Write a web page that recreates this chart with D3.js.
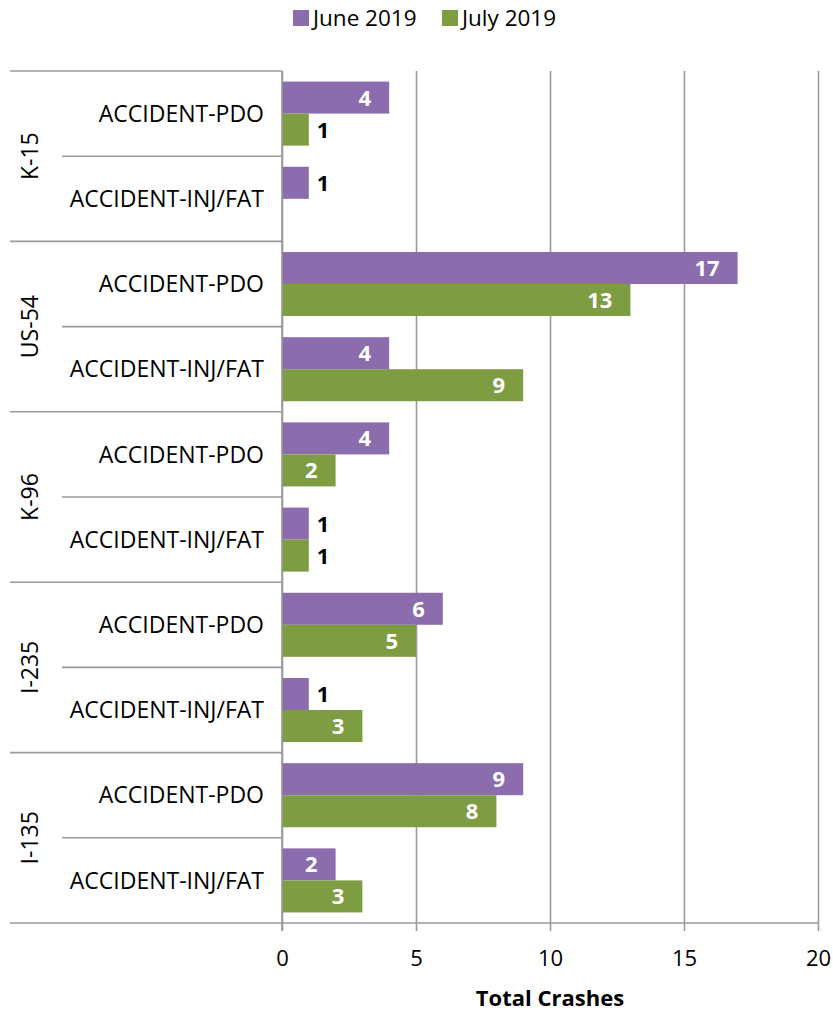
<!DOCTYPE html>
<html><head><meta charset="utf-8">
<script src="https://cdn.jsdelivr.net/npm/d3@7"></script>
<style>
body{margin:0;background:#fff;}
svg text{font-family:"Open Sans","Noto Sans",sans-serif;}
</style></head>
<body><svg id="c" width="833" height="1011"></svg>
<script>
const groups = ["K-15","US-54","K-96","I-235","I-135"];
const subs = ["ACCIDENT-PDO","ACCIDENT-INJ/FAT"];
const series = ["June 2019","July 2019"];
const june = [4,1, 17,4, 4,1, 6,1, 9,2];
const july = [1,0, 13,9, 2,1, 5,3, 8,3];
const xTicks = [0,5,10,15,20];
const colors = ["#8b6dad","#7e9c42"];

const svg = d3.select("#c");
const L=282, R=818, T=71, B=923;
const rows = [];
groups.forEach((g,gi)=>subs.forEach((s,si)=>rows.push({g,s,key:g+"|"+s,vals:[june[gi*2+si],july[gi*2+si]]})));

const x = d3.scaleLinear().domain([0,20]).range([L,R]);
const y0 = d3.scaleBand().domain(rows.map(r=>r.key)).range([T,B]).paddingInner(0).paddingOuter(0);
const y1 = d3.scaleBand().domain(series).range([0,y0.bandwidth()]).paddingInner(0).paddingOuter(0.33);
const gridCol="#9a9a9a";

// gridlines
svg.append("g").attr("transform",`translate(0,${B})`)
  .call(d3.axisBottom(x).tickValues(xTicks).tickSize(-(B-T)).tickFormat(""))
  .call(g=>{g.select(".domain").remove();g.selectAll("line").attr("stroke",gridCol).attr("stroke-width",1.6);});

// bars
const rg = svg.append("g").selectAll("g").data(rows).join("g").attr("transform",d=>`translate(0,${y0(d.key)})`);
rg.selectAll("rect").data(d=>d.vals.map((v,i)=>({v,i,s:series[i]})).filter(e=>e.v>0)).join("rect")
  .attr("x",x(0)).attr("y",e=>y1(e.s)).attr("width",e=>x(e.v)-x(0)).attr("height",y1.bandwidth())
  .attr("fill",e=>colors[e.i]);
rg.selectAll("text").data(d=>d.vals.map((v,i)=>({v,i,s:series[i]})).filter(e=>e.v>0)).join("text")
  .attr("x",e=>e.v>=2? x(e.v)-18 : x(e.v)+8)
  .attr("y",e=>y1(e.s)+y1.bandwidth()/2).attr("dy","0.36em")
  .attr("text-anchor",e=>e.v>=2?"end":"start")
  .attr("fill",e=>e.v>=2?"#fff":"#000").attr("font-weight","bold").attr("font-size",22)
  .text(e=>e.v);

// bottom axis
svg.append("g").attr("transform",`translate(0,${B})`)
  .call(d3.axisBottom(x).tickValues(xTicks).tickSize(8).tickPadding(19).tickFormat(d3.format("d")))
  .call(g=>{g.select(".domain").remove();g.selectAll("line").attr("stroke",gridCol).attr("stroke-width",1.6);
    g.selectAll("text").attr("font-size",22).attr("fill","#000").attr("font-family","Open Sans");});
// bottom axis line extending left
svg.append("line").attr("x1",10).attr("x2",R).attr("y1",B).attr("y2",B).attr("stroke",gridCol).attr("stroke-width",1.6);
// vertical axis line
svg.append("line").attr("x1",L).attr("x2",L).attr("y1",T).attr("y2",B+8).attr("stroke",gridCol).attr("stroke-width",1.6);

// category lines
const lines = svg.append("g");
rows.forEach((r,i)=>{
  const yy = y0(r.key);
  const isGroup = i%2===0;
  lines.append("line").attr("x1",isGroup?10:62).attr("x2",L).attr("y1",yy).attr("y2",yy)
    .attr("stroke",gridCol).attr("stroke-width",1.6);
});
// sub labels
svg.append("g").selectAll("text").data(rows).join("text")
  .attr("x",264).attr("y",d=>y0(d.key)+y0.bandwidth()/2).attr("dy","0.36em")
  .attr("text-anchor","end").attr("font-size",23).attr("fill","#000").text(d=>d.s);
// group labels
svg.append("g").selectAll("text").data(groups).join("text")
  .attr("transform",g=>`translate(30,${y0(g+"|"+subs[0])+y0.bandwidth()}) rotate(-90)`)
  .attr("dy","0.36em").attr("text-anchor","middle").attr("font-size",23).attr("fill","#000").text(g=>g);

// axis title
svg.append("text").attr("x",(L+R)/2).attr("y",1006).attr("text-anchor","middle")
  .attr("font-weight","bold").attr("font-size",22).text("Total Crashes");

// legend
const leg = svg.append("g");
const legX=[293,442];
series.forEach((s,i)=>{
  leg.append("rect").attr("x",legX[i]).attr("y",10).attr("width",16).attr("height",16).attr("fill",colors[i]);
  leg.append("text").attr("x",legX[i]+20).attr("y",26).attr("font-size",22.5).text(s);
});
</script></body></html>
